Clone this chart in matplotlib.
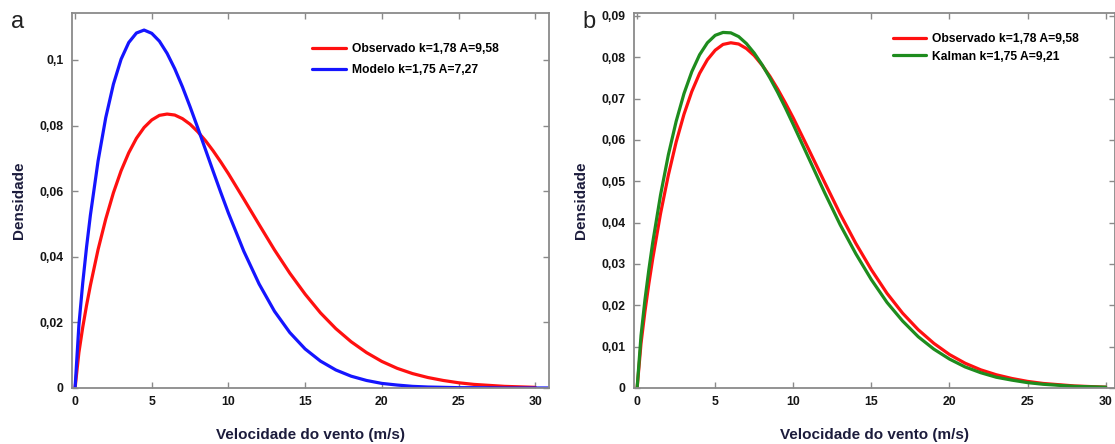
import matplotlib
matplotlib.use('agg')
import matplotlib.pyplot as plt

plt.rcParams['font.family'] = ['Liberation Sans', 'DejaVu Sans']

# wind speed (m/s) where the curves were read
vel = [0, 0.25, 0.5, 0.75, 1, 1.5, 2, 2.5, 3, 3.5, 4, 4.5, 5, 5.5, 6, 6.5, 7, 7.5,
       8, 8.5, 9, 9.5, 10, 11, 12, 13, 14, 15, 16, 17, 18, 19, 20, 21, 22, 23,
       24, 25, 26, 28, 30]

# densities
observado = [0, 0.0108, 0.0185, 0.0252, 0.0313, 0.0422, 0.0515, 0.0595, 0.0662, 0.0717,
             0.0761, 0.0794, 0.0817, 0.0831, 0.0835, 0.0832, 0.0821, 0.0804, 0.0781,
             0.0754, 0.0723, 0.0689, 0.0653, 0.0576, 0.0498, 0.0421, 0.0350, 0.0286,
             0.0229, 0.0181, 0.0141, 0.0108, 0.0081, 0.0060, 0.0044, 0.0032, 0.0023,
             0.0016, 0.0011, 0.0005, 0.0002]
modelo = [0, 0.0192, 0.0320, 0.0430, 0.0527, 0.0692, 0.0824, 0.0926, 0.1002, 0.1053,
          0.1082, 0.1091, 0.1081, 0.1057, 0.1020, 0.0973, 0.0918, 0.0857, 0.0793,
          0.0727, 0.0661, 0.0596, 0.0533, 0.0417, 0.0317, 0.0234, 0.0169, 0.0119,
          0.0082, 0.0055, 0.0036, 0.0023, 0.0014, 0.0009, 0.0005, 0.0003, 0.0002,
          0.0001, 0.0001, 0.0, 0.0]
kalman = [0, 0.0127, 0.0213, 0.0286, 0.0352, 0.0467, 0.0564, 0.0645, 0.0712, 0.0765,
          0.0806, 0.0835, 0.0853, 0.0860, 0.0859, 0.0850, 0.0833, 0.0810, 0.0782,
          0.0750, 0.0715, 0.0677, 0.0637, 0.0555, 0.0473, 0.0395, 0.0325, 0.0262,
          0.0207, 0.0162, 0.0124, 0.0094, 0.0070, 0.0051, 0.0037, 0.0026, 0.0019,
          0.0013, 0.0009, 0.0004, 0.0002]

lbl_obs = 'Observado k=1,78 A=9,58'
lbl_mod = 'Modelo k=1,75 A=7,27'
lbl_kal = 'Kalman k=1,75 A=9,21'

xticks = [0, 5, 10, 15, 20, 25, 30]
yticks_a = [0, 0.02, 0.04, 0.06, 0.08, 0.1]
ylabels_a = ['0', '0,02', '0,04', '0,06', '0,08', '0,1']
yticks_b = [0, 0.01, 0.02, 0.03, 0.04, 0.05, 0.06, 0.07, 0.08, 0.09]
ylabels_b = ['0', '0,01', '0,02', '0,03', '0,04', '0,05', '0,06', '0,07', '0,08', '0,09']

txt_col = '#1c1c3c'
spine_col = '#8a8a8a'

fig = plt.figure(figsize=(11.15, 4.44), dpi=100)
ax1 = fig.add_axes([72/1115, 1-388/444, 477/1115, 375/444])
ax2 = fig.add_axes([634/1115, 1-388/444, 481/1115, 375/444])


def style(ax, yt, yl, ymax, xmax):
    ax.set_xlim(-0.2, xmax)
    ax.set_ylim(0, ymax)
    ax.set_xticks(xticks)
    ax.set_xticklabels([str(t) for t in xticks])
    ax.set_yticks(yt)
    ax.set_yticklabels(yl)
    ax.tick_params(direction='in', length=4, width=1, color=spine_col,
                   top=True, right=True, labelsize=8.8, labelcolor='#151515', pad=6)
    for t in ax.get_xticklabels() + ax.get_yticklabels():
        t.set_fontweight('bold')
    for s in ax.spines.values():
        s.set_color(spine_col)
        s.set_linewidth(1.3)
    ax.set_xlabel('Velocidade do vento (m/s)', fontsize=11, fontweight='bold',
                  color=txt_col, labelpad=14)
    ax.set_ylabel('Densidade', fontsize=11, fontweight='bold', color=txt_col, labelpad=10)


kw = dict(lw=2.3, solid_joinstyle='round', solid_capstyle='round')
ax1.plot(vel, observado, color='#ff1010', label=lbl_obs, **kw)
ax1.plot(vel + [31], modelo + [0.0], color='#1515ff', label=lbl_mod, **kw)
style(ax1, yticks_a, ylabels_a, 0.1143, 30.9)
ax1.legend(loc='upper left', bbox_to_anchor=(0.49, 0.935), frameon=False,
           prop={'weight': 'bold', 'size': 8.7}, handlelength=2.8,
           labelspacing=0.75, borderpad=0, handletextpad=0.5)

ax2.plot(vel, observado, color='#ff1010', label=lbl_obs, **kw)
ax2.plot(vel, kalman, color='#1e8c1e', label=lbl_kal, **kw)
style(ax2, yticks_b, ylabels_b, 0.0907, 30.6)
ax2.legend(loc='upper left', bbox_to_anchor=(0.525, 0.962), frameon=False,
           prop={'weight': 'bold', 'size': 8.7}, handlelength=2.8,
           labelspacing=0.45, borderpad=0, handletextpad=0.5)

fig.text(11/1115, 1-22/444, 'a', fontsize=17, color='#222222', va='center')
fig.text(582/1115, 1-22/444, 'b', fontsize=17, color='#222222', va='center')

fig.savefig('out.png', dpi=100)
